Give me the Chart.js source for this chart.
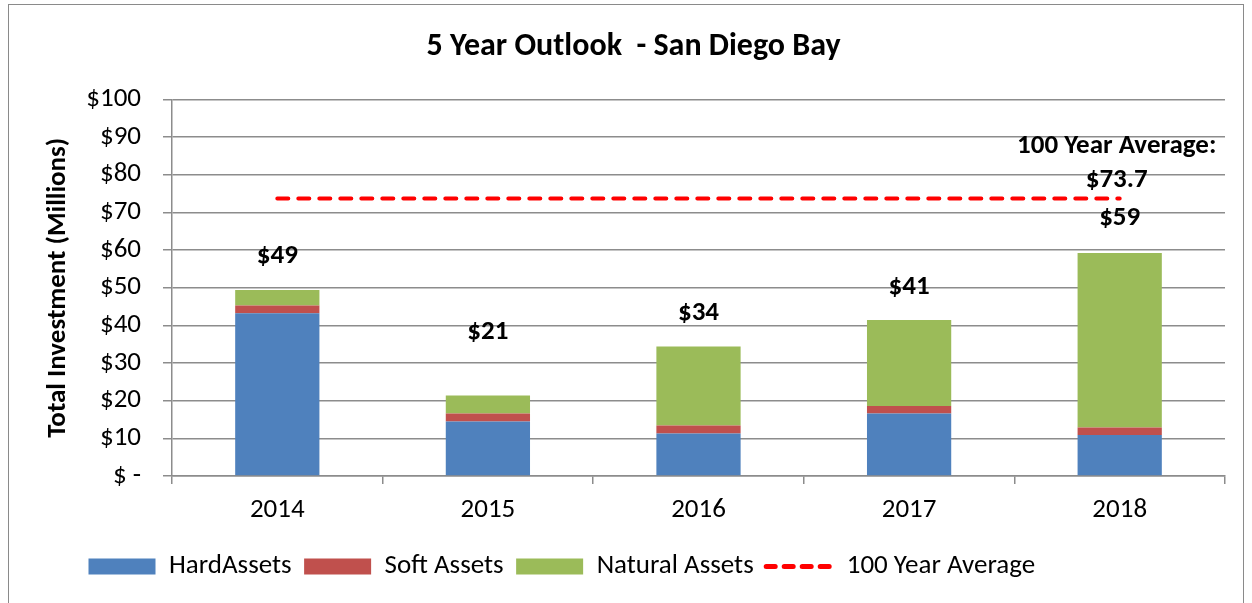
<!DOCTYPE html>
<html>
<head>
<meta charset="utf-8">
<script src="https://cdn.jsdelivr.net/npm/chart.js@4.4.1/dist/chart.umd.min.js"></script>
<style>
  html, body { margin: 0; padding: 0; background: #fff; }
  #wrap { position: relative; width: 1252px; height: 603px; overflow: hidden; }
  #frame { position: absolute; left: 8px; top: 4px; width: 1236px; height: 640px; border: 1px solid #8a8a8a; box-sizing: border-box; pointer-events: none; }
  canvas { position: absolute; left: 0; top: 0; }
</style>
</head>
<body>
<div id="wrap">
  <canvas id="c" width="1252" height="603"></canvas>
  <div id="frame"></div>
</div>
<script>
const categories = ['2014', '2015', '2016', '2017', '2018'];
const hardAssets = [43.2, 14.5, 11.3, 16.6, 10.9];
const softAssets = [2.1, 2.1, 2.1, 2.0, 2.0];
const naturalAssets = [4.1, 4.8, 21.0, 22.8, 46.3];
const hundredYearAverage = [73.7, 73.7, 73.7, 73.7, 73.7];
const yTicks = [0, 10, 20, 30, 40, 50, 60, 70, 80, 90, 100];

const FONT = "Carlito, Calibri, Lato, sans-serif";

const labelPlugin = {
  id: 'totals',
  afterLayout(chart, args, opts) {
    if (chart.legend) chart.legend.left = opts.legendLeft;
  },
  afterDatasetsDraw(chart, args, opts) {
    const ctx = chart.ctx;
    const x = chart.scales.x, y = chart.scales.y;
    ctx.save();
    ctx.font = "bold 27px " + FONT;
    ctx.fillStyle = '#000';
    ctx.textAlign = 'center';
    ctx.textBaseline = 'middle';
    categories.forEach((c, i) => {
      const total = hardAssets[i] + softAssets[i] + naturalAssets[i];
      const px = x.getPixelForValue(i);
      const py = y.getPixelForValue(total) - opts.offsets[i];
      ctx.fillText('$' + Math.round(total), px, py);
    });
    const last = categories.length - 1;
    const avg = hundredYearAverage[last];
    const ax = x.getPixelForValue(last) - 3;
    const ay = y.getPixelForValue(avg);
    ctx.fillText('100 Year Average:', ax, ay - 52);
    ctx.fillText('$' + avg.toFixed(1), ax, ay - 18);
    ctx.restore();
  }
};

new Chart(document.getElementById('c'), {
  type: 'bar',
  data: {
    labels: categories,
    datasets: [
      { label: 'HardAssets', data: hardAssets, backgroundColor: '#4F81BD', stack: 's', order: 2 },
      { label: 'Soft Assets', data: softAssets, backgroundColor: '#C0504D', stack: 's', order: 2 },
      { label: 'Natural Assets', data: naturalAssets, backgroundColor: '#9BBB59', stack: 's', order: 2 },
      { type: 'line', label: '100 Year Average', data: hundredYearAverage, borderColor: '#FF0000', backgroundColor: '#FF0000',
        borderWidth: 4, borderDash: [11, 10], borderCapStyle: 'round', pointRadius: 0, fill: false, order: 1 }
    ]
  },
  plugins: [labelPlugin],
  options: {
    responsive: false,
    animation: false,
    devicePixelRatio: 1,
    layout: { padding: { left: 42, right: 27, top: 0, bottom: 13 } },
    datasets: { bar: { barPercentage: 0.4, categoryPercentage: 1.0 } },
    plugins: {
      totals: { offsets: [34, 63, 33, 33, 35], legendLeft: 76 },
      tooltip: { enabled: false },
      title: {
        display: true,
        text: '5 Year Outlook  - San Diego Bay',
        color: '#000',
        font: { family: FONT, size: 32, weight: 'bold', lineHeight: 1.2 },
        padding: { top: 28, bottom: 33 }
      },
      legend: {
        position: 'bottom',
        align: 'start',
        labels: {
          color: '#000',
          font: { family: FONT, size: 27 },
          usePointStyle: true,
          pointStyleWidth: 67,
          boxHeight: 16,
          padding: 12.5,
          generateLabels(chart) {
            return chart.data.datasets.map((ds, i) => {
              const isLine = ds.type === 'line';
              return {
                text: ds.label,
                datasetIndex: i,
                fillStyle: ds.backgroundColor,
                strokeStyle: isLine ? ds.borderColor : ds.backgroundColor,
                lineWidth: isLine ? 5 : 0,
                lineDash: isLine ? [9, 9] : [],
                lineCap: isLine ? 'round' : 'butt',
                pointStyle: isLine ? 'line' : 'rect',
                fontColor: '#000',
                hidden: false
              };
            });
          }
        }
      }
    },
    scales: {
      x: {
        stacked: true,
        offset: true,
        grid: { display: true, drawOnChartArea: false, offset: true, color: '#8c8c8c', lineWidth: 1.5, tickLength: 8 },
        border: { color: '#8c8c8c', width: 1.5 },
        ticks: { color: '#000', font: { family: FONT, size: 27 }, padding: 10 },
        afterFit(scale) { scale.height = 64.5; }
      },
      y: {
        stacked: true,
        min: 0,
        max: 100,
        afterBuildTicks(scale) { scale.ticks = yTicks.map(v => ({ value: v })); },
        grid: { color: '#8c8c8c', lineWidth: 1.5, tickLength: 9 },
        border: { color: '#8c8c8c', width: 1.5 },
        ticks: {
          color: '#000',
          font: { family: FONT, size: 27 },
          padding: 22,
          callback: v => v === 0 ? '$ -' : '$' + v
        },
        title: {
          display: true,
          text: 'Total Investment (Millions)',
          color: '#000',
          font: { family: FONT, size: 27, weight: 'bold' },
          padding: { top: 0, bottom: 0 }
        },
        afterFit(scale) { scale.width = 130; }
      }
    }
  }
});
</script>
</body>
</html>
